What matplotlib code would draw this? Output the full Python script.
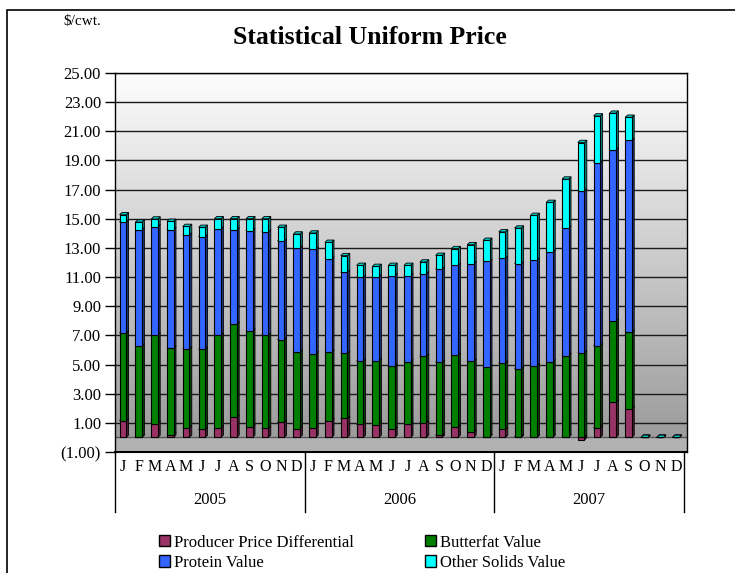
import numpy as np
import matplotlib
matplotlib.use("Agg")
import matplotlib.pyplot as plt
from matplotlib.patches import Polygon, Patch, Rectangle
from matplotlib.colors import LinearSegmentedColormap, to_rgb
import matplotlib.transforms as mtransforms

plt.rcParams['font.family'] = ['Liberation Serif', 'DejaVu Serif']

# monthly data, Jan 2005 .. Dec 2007 ($/cwt.)
months = ['J', 'F', 'M', 'A', 'M', 'J', 'J', 'A', 'S', 'O', 'N', 'D']
years = ['2005', '2006', '2007']

ppd = [1.16, 0.05, 0.94, 0.20, 0.66, 0.55, 0.66, 1.39, 0.73, 0.62, 1.03, 0.60,
       0.64, 1.16, 1.30, 0.89, 0.87, 0.55, 0.89, 1.00, 0.15, 0.71, 0.37, 0.05,
       0.55, 0.05, 0.05, 0.05, 0.05, -0.18, 0.66, 2.42, 1.96, 0.0, 0.0, 0.0]
butterfat = [6.01, 6.20, 6.07, 5.94, 5.41, 5.50, 6.35, 6.37, 6.57, 6.39, 5.66, 5.25,
             5.09, 4.69, 4.46, 4.34, 4.40, 4.34, 4.29, 4.57, 5.01, 4.93, 4.86, 4.77,
             4.55, 4.65, 4.88, 5.13, 5.57, 5.80, 5.64, 5.59, 5.25, 0.0, 0.0, 0.0]
protein = [7.60, 8.00, 7.44, 8.11, 7.81, 7.72, 7.28, 6.49, 6.88, 7.08, 6.78, 7.14,
           7.19, 6.39, 5.56, 5.75, 5.76, 6.21, 5.92, 5.66, 6.39, 6.16, 6.69, 7.26,
           7.18, 7.22, 7.26, 7.54, 8.74, 11.12, 12.56, 11.72, 13.16, 0.0, 0.0, 0.0]
other_solids = [0.50, 0.52, 0.53, 0.57, 0.59, 0.64, 0.71, 0.75, 0.82, 0.91, 0.94, 0.96,
                1.10, 1.14, 1.15, 0.82, 0.70, 0.70, 0.70, 0.80, 0.94, 1.15, 1.30, 1.44,
                1.82, 2.44, 3.04, 3.40, 3.36, 3.31, 3.19, 2.51, 1.59, 0.0, 0.0, 0.0]

names = ['Producer Price Differential', 'Butterfat Value', 'Protein Value', 'Other Solids Value']
colors = ['#993366', '#008000', '#3366FF', '#00FFFF']

fig = plt.figure(figsize=(7.35, 5.73), dpi=100)
ax = fig.add_axes([115 / 735, 1 - 452 / 573, (687 - 115) / 735, (452 - 73) / 573])

xlo, xhi = -0.5, 35.7
ax.set_xlim(xlo, xhi)
ax.set_ylim(-1, 25)

# back wall gradient + floor
cmap = LinearSegmentedColormap.from_list('wall', ['#9c9c9c', '#fdfdfd'])
ax.imshow(np.linspace(0, 1, 256)[:, None], extent=[xlo, xhi, 0, 25], origin='lower',
          aspect='auto', cmap=cmap, zorder=0)
ax.axhspan(-1, 0, color='#b2b2b2', zorder=0.5)
ax.axhline(0, color='#555555', lw=1, zorder=0.6)
for v in range(1, 26, 2):
    ax.axhline(v, color='#1a1a1a', lw=1, zorder=0.6)

x = np.arange(36)
w = 0.42
dx, dy = 0.15, 0.16

p = np.array(ppd)
bf = np.array(butterfat)
pr = np.array(protein)
osv = np.array(other_solids)
b_bf = np.maximum(p, 0)
b_pr = b_bf + bf
b_os = b_pr + pr

series = [(p, np.zeros(36)), (bf, b_bf), (pr, b_pr), (osv, b_os)]


def shade(c, f):
    r, g, b = to_rgb(c)
    return (r * f, g * f, b * f)


for k, (h, b) in enumerate(series):
    z = 2 + k
    c = colors[k]
    for i in range(36):
        if h[i] == 0 and i < 33:
            continue
        x1 = x[i] + w / 2
        y0, y1 = b[i], b[i] + h[i]
        lo, hi = min(y0, y1), max(y0, y1)
        side = Polygon([(x1, lo), (x1 + dx, lo + dy), (x1 + dx, hi + dy), (x1, hi)],
                       closed=True, facecolor=shade(c, 0.5), edgecolor='black', lw=0.6, zorder=z)
        top = Polygon([(x1 - w, hi), (x1 - w + dx, hi + dy), (x1 + dx, hi + dy), (x1, hi)],
                      closed=True, facecolor=shade(c, 0.8), edgecolor='black', lw=0.6, zorder=z)
        ax.add_patch(side)
        ax.add_patch(top)
    ax.bar(x, h, w, bottom=b, color=c, edgecolor='black', lw=0.8, zorder=z + 0.5)

# axes styling
for s in ['top', 'right', 'left']:
    ax.spines[s].set_color('black')
    ax.spines[s].set_linewidth(1)
ax.spines['bottom'].set_linewidth(1.5)

yt = list(range(-1, 26, 2))
ax.set_yticks(yt)
ax.set_yticklabels(['(%.2f)' % -v if v < 0 else '%.2f' % v for v in yt], fontsize=12)
ax.tick_params(axis='y', direction='out', length=7, width=1, pad=3)

ax.set_xticks(x)
ax.set_xticklabels(months * 3, fontsize=11.5)
ax.tick_params(axis='x', length=0, pad=5)

trans = mtransforms.blended_transform_factory(ax.transData, ax.transAxes)
for k in range(4):
    ax.plot([-0.5 + 12 * k] * 2, [0, -0.158], color='black', lw=1, transform=trans, clip_on=False)
for k, yr in enumerate(years):
    ax.text(5.5 + 12 * k, -0.127, yr, transform=trans, ha='center', va='center', fontsize=12)

# titles
fig.text(370 / 735, 1 - 37 / 573, 'Statistical Uniform Price', ha='center', va='center',
         fontsize=18.5, fontweight='bold')
fig.text(82 / 735, 1 - 21 / 573, '$/cwt.', ha='center', va='center', fontsize=11)

# outer frame
fig.patches.append(Rectangle((7 / 735, -0.1), 1.2, 1 - 10 / 573 + 0.1, transform=fig.transFigure,
                             fill=False, edgecolor='black', lw=1.2))

handles = [Patch(facecolor=colors[i], edgecolor='black', label=names[i]) for i in range(4)]
handles = [handles[0], handles[2], handles[1], handles[3]]
fig.legend(handles=handles, ncol=2, loc='upper left', bbox_to_anchor=(152 / 735, 1 - 528 / 573),
           frameon=False, fontsize=12, handlelength=0.65, handleheight=0.65,
           handletextpad=0.25, columnspacing=4.3, labelspacing=0.25, borderaxespad=0)

fig.savefig('out.png', dpi=100)
